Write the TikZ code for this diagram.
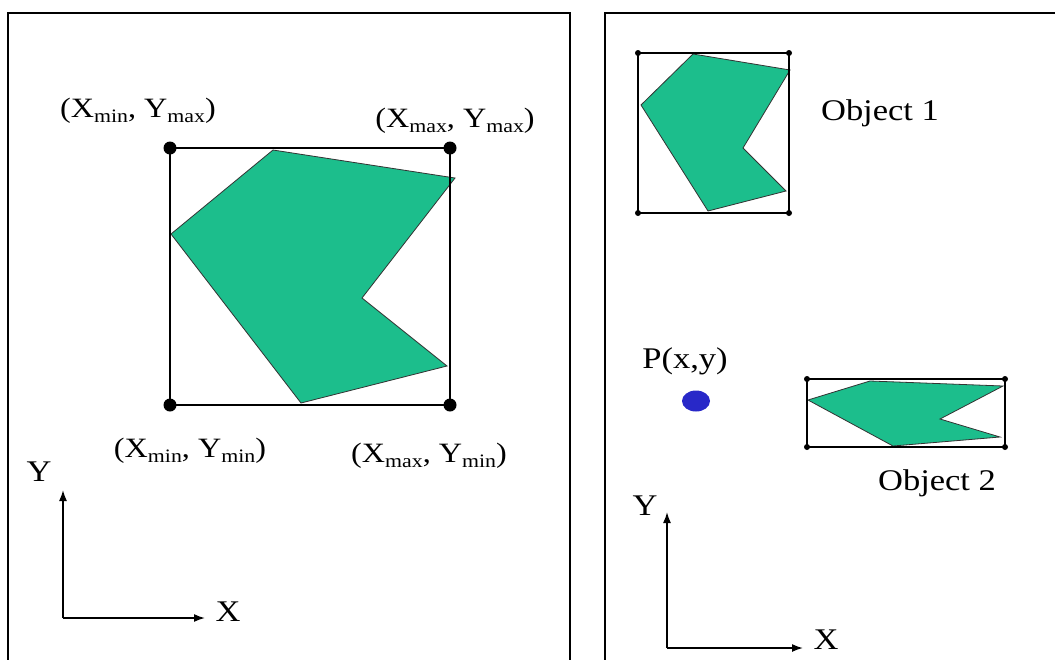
\documentclass[tikz,border=0pt]{standalone}
\usepackage{fontspec}
\setmainfont{Liberation Serif}
\newfontfamily\widefont[FakeStretch=1.15]{Liberation Serif}
\usetikzlibrary{arrows.meta,shapes.geometric}
\definecolor{objgreen}{RGB}{28,190,140}
\definecolor{dotblue}{RGB}{40,40,200}
\newcommand{\lowsub}[1]{\raisebox{-0.35ex}{\fontsize{19}{20}\selectfont #1}}
\tikzset{
  frame/.style={draw=black, line width=1.6pt},
  bbox/.style={draw=black, line width=1.8pt},
  obj/.style={fill=objgreen, draw=black!80, line width=0.8pt, line join=miter},
  bigdot/.style={circle, fill=black, inner sep=0pt, minimum size=13pt},
  smalldot/.style={circle, fill=black, inner sep=0pt, minimum size=6pt},
  lab/.style={font=\widefont\fontsize{28}{30}\selectfont, inner sep=0pt},
  objlab/.style={font=\widefont\fontsize{30}{34}\selectfont, inner sep=0pt},
  axis/.style={line width=1.6pt, -{Latex[length=11pt,width=8pt]}},
}
\begin{document}
\begin{tikzpicture}[x=1pt,y=-1pt]
\useasboundingbox (0,0) rectangle (1055,659);
\clip (0,0) rectangle (1055,659);
\fill[white] (0,0) rectangle (1055,659);
% frames
\draw[frame] (8,13) rectangle (570,680);
\draw[frame] (605,13) rectangle (1070,680);

% ---- left panel ----
\fill[obj] (273,150) -- (455,178) -- (362,298) -- (447,366) -- (301,403) -- (171,234) -- cycle;
\coordinate (LTL) at (170,148);
\coordinate (LTR) at (450,148);
\coordinate (LBL) at (170,405);
\coordinate (LBR) at (450,405);
\draw[bbox] (LTL) -- (LTR) -- (LBR) -- (LBL) -- cycle;
\node[bigdot] (dTL) at (LTL) {};
\node[bigdot] (dTR) at (LTR) {};
\node[bigdot] (dBL) at (LBL) {};
\node[bigdot] (dBR) at (LBR) {};
\node[lab] (l1) at (138,111) {(X\lowsub{min}, Y\lowsub{max})};
\node[lab] (l2) at (455,121) {(X\lowsub{max}, Y\lowsub{max})};
\node[lab] (l3) at (190,451) {(X\lowsub{min}, Y\lowsub{min})};
\node[lab] (l4) at (429,456) {(X\lowsub{max}, Y\lowsub{min})};
% left axes
\coordinate (LO) at (63,618);
\coordinate (LY) at (63,490);
\coordinate (LX) at (205,618);
\draw[axis] (LO) -- (LY);
\draw[axis] (LO) -- (LX);
\node[objlab] (ly) at (39,472) {Y};
\node[objlab] (lx) at (228,612) {X};

% ---- right panel ----
% object 1
\fill[obj] (693,54) -- (790,70) -- (743,148) -- (786,191) -- (708,211) -- (641,105) -- cycle;
\coordinate (ATL) at (638,53);
\coordinate (ATR) at (789,53);
\coordinate (ABL) at (638,213);
\coordinate (ABR) at (789,213);
\draw[frame] (ATL) -- (ATR) -- (ABR) -- (ABL) -- cycle;
\node[smalldot] (aTL) at (ATL) {};
\node[smalldot] (aTR) at (ATR) {};
\node[smalldot] (aBL) at (ABL) {};
\node[smalldot] (aBR) at (ABR) {};
\node[objlab] (o1) at (880,113) {Object 1};
% point
\node[objlab] (pl) at (685,361) {P(x,y)};
\node[ellipse, fill=dotblue, inner sep=0pt, minimum width=28pt, minimum height=21pt] (pd) at (696,401) {};
% object 2
\fill[obj] (808,400) -- (870,381) -- (1003,386) -- (940,419) -- (1000,437) -- (893,446) -- cycle;
\coordinate (BTL) at (807,379);
\coordinate (BTR) at (1005,379);
\coordinate (BBL) at (807,447);
\coordinate (BBR) at (1005,447);
\draw[frame] (BTL) -- (BTR) -- (BBR) -- (BBL) -- cycle;
\node[smalldot] (bTL) at (BTL) {};
\node[smalldot] (bTR) at (BTR) {};
\node[smalldot] (bBL) at (BBL) {};
\node[smalldot] (bBR) at (BBR) {};
\node[objlab] (o2) at (937,483) {Object 2};
% right axes
\coordinate (RO) at (667,648);
\coordinate (RY) at (667,512);
\coordinate (RX) at (803,648);
\draw[axis] (RO) -- (RY);
\draw[axis] (RO) -- (RX);
\node[objlab] (ry) at (645,506) {Y};
\node[objlab] (rx) at (826,640) {X};
\end{tikzpicture}
\end{document}
